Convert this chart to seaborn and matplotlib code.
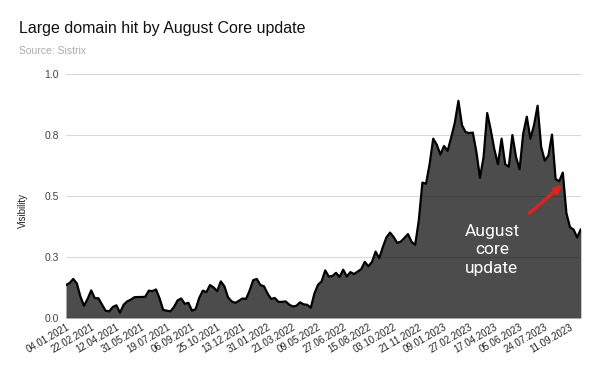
import pandas as pd
import seaborn as sns
import matplotlib.pyplot as plt
import numpy as np

# Weekly visibility values (Sistrix)
start_date = '2021-01-04'
visibility = [
    0.135, 0.143, 0.160, 0.142, 0.088, 0.050, 0.078, 0.113, 0.081, 0.081,
    0.055, 0.030, 0.027, 0.045, 0.052, 0.022, 0.054, 0.068, 0.075, 0.085,
    0.086, 0.086, 0.087, 0.112, 0.110, 0.117, 0.080, 0.033, 0.030, 0.027,
    0.045, 0.072, 0.080, 0.058, 0.062, 0.030, 0.036, 0.082, 0.112, 0.106,
    0.135, 0.125, 0.110, 0.150, 0.130, 0.085, 0.068, 0.062, 0.070, 0.080,
    0.078, 0.112, 0.155, 0.160, 0.135, 0.130, 0.100, 0.078, 0.082, 0.066,
    0.066, 0.068, 0.055, 0.047, 0.050, 0.064, 0.056, 0.054, 0.042, 0.100,
    0.136, 0.150, 0.195, 0.170, 0.172, 0.185, 0.168, 0.198, 0.170, 0.188,
    0.180, 0.190, 0.200, 0.230, 0.212, 0.230, 0.272, 0.245, 0.290, 0.330,
    0.350, 0.332, 0.308, 0.313, 0.328, 0.344, 0.312, 0.300, 0.400, 0.555,
    0.550, 0.630, 0.735, 0.710, 0.670, 0.705, 0.685, 0.740, 0.800, 0.890,
    0.790, 0.762, 0.758, 0.760, 0.680, 0.575, 0.660, 0.840, 0.770, 0.690,
    0.630, 0.735, 0.630, 0.620, 0.750, 0.660, 0.610, 0.755, 0.825, 0.735,
    0.790, 0.870, 0.700, 0.645, 0.665, 0.752, 0.570, 0.560, 0.596, 0.430,
    0.372, 0.362, 0.330, 0.364,
]
y_ticks = [0.0, 0.25, 0.5, 0.75, 1.0]
y_tick_labels = ['0.0', '0.3', '0.5', '0.8', '1.0']

df = pd.DataFrame({
    'week': pd.date_range(start_date, periods=len(visibility), freq='7D'),
    'visibility': visibility,
})

sns.set_style('white')
plt.rcParams['font.family'] = ['Liberation Sans', 'DejaVu Sans']

fig = plt.figure(figsize=(6, 3.71), dpi=100)
ax = fig.add_axes([0.11, 0.1429, 0.858, 0.6576])

# grid under the translucent area
for t in y_ticks[1:]:
    ax.axhline(t, color='#d9d9d9', lw=0.8, zorder=0)

ax.fill_between(df['week'], df['visibility'], 0, color='black', alpha=0.7,
                lw=0, zorder=1)
sns.lineplot(data=df, x='week', y='visibility', ax=ax, color='black',
             lw=1.6, zorder=2)
ax.axhline(0, color='#333333', lw=1, zorder=3)

ax.set_xlim(df['week'].iloc[0], df['week'].iloc[-1])
ax.set_ylim(0, 1.0)
ax.set_yticks(y_ticks)
ax.set_yticklabels(y_tick_labels)
tick_dates = df['week'].iloc[::7]
ax.set_xticks(tick_dates)
ax.set_xticklabels([d.strftime('%d.%m.%Y') for d in tick_dates],
                   rotation=30, ha='right', rotation_mode='anchor')
ax.tick_params(axis='y', labelsize=7.5, labelcolor='#444444', length=0, pad=5)
ax.tick_params(axis='x', labelsize=7, labelcolor='#222222', length=0, pad=3)
ax.set_xlabel('')
ax.set_ylabel('')
sns.despine(ax=ax, left=True, bottom=True)

fig.text(19 / 600, 1 - 32.5 / 371, 'Large domain hit by August Core update',
         fontsize=11.5, color='#111111', va='baseline', ha='left')
fig.text(19 / 600, 1 - 54 / 371, 'Source: Sistrix',
         fontsize=7.5, color='#aaaaaa', va='baseline', ha='left')
fig.text(23 / 600, 1 - 210 / 371, 'Visibility', rotation=90,
         fontsize=7, color='#222222', va='center', ha='center')

# annotation
t0 = df['week'].iloc[0]
ax.text(t0 + pd.Timedelta(weeks=118.3), 0.279, 'August\ncore\nupdate',
        color='white', fontsize=12.5, ha='center', va='center',
        linespacing=1.3, family=['Roboto', 'DejaVu Sans'], zorder=4)
ax.annotate('', xy=(t0 + pd.Timedelta(weeks=137.8), 0.545),
            xytext=(t0 + pd.Timedelta(weeks=128.7), 0.43),
            arrowprops=dict(arrowstyle='-|>', color='#e3211c', lw=2.4,
                            mutation_scale=10, shrinkA=0, shrinkB=0),
            zorder=5)

fig.savefig('out.png', dpi=100)
